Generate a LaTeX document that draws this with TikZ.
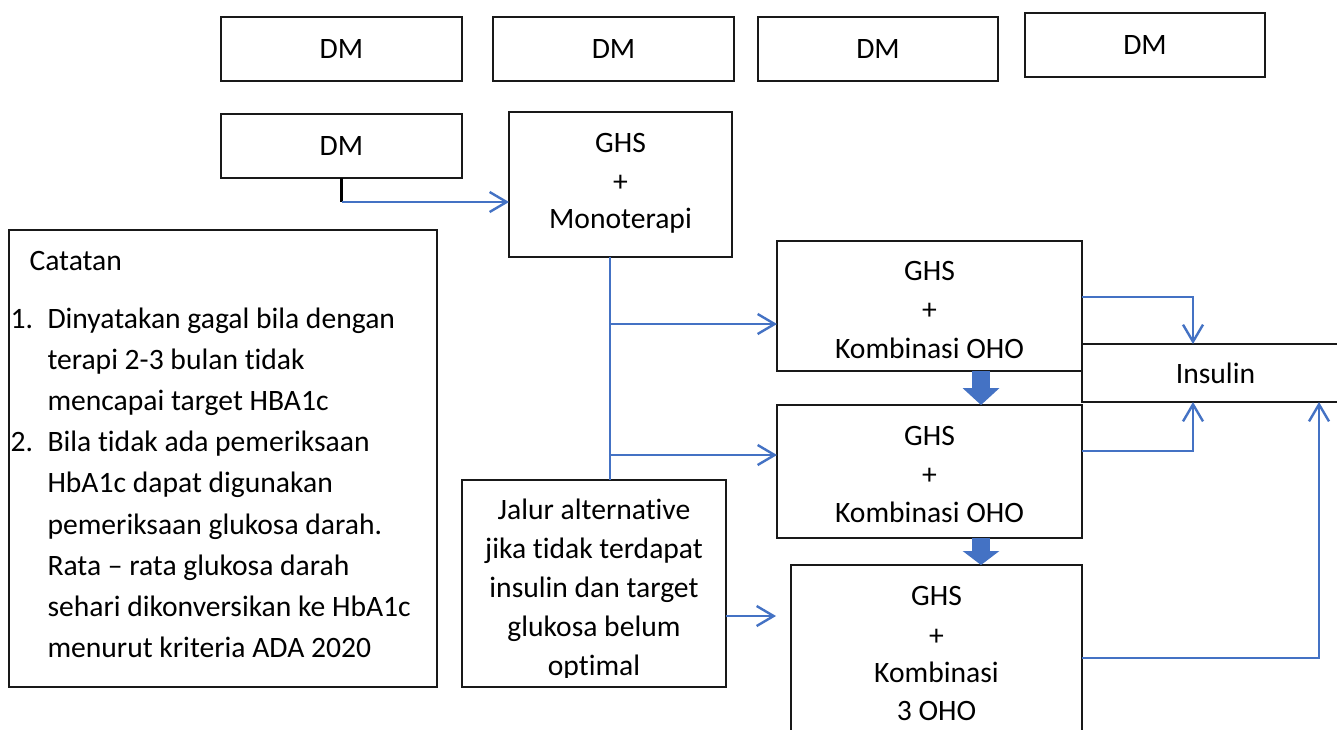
\documentclass[tikz,border=0pt]{standalone}
\usepackage{fontspec}
\setmainfont{Carlito}[Ligatures={NoCommon}]
\usetikzlibrary{arrows.meta}
\definecolor{flow}{HTML}{4472C4}
\definecolor{flowedge}{HTML}{3A62AE}
\tikzset{
  box/.style={draw=black!90, line width=2.8pt, fill=white, inner sep=0pt, outer sep=0pt,
    font=\fontsize{29.6}{35}\selectfont},
  txt/.style={inner sep=0pt, outer sep=0pt, anchor=base, font=\fontsize{29.6}{35}\selectfont},
  ltxt/.style={txt, anchor=base west},
  flowline/.style={draw=flow, line width=2.4pt},
  flowarrow/.style={flowline, -{Straight Barb[length=17pt, width=20pt]}},
  fatarrow/.style={draw=flow, line width=18pt}
}
\begin{document}
\begin{tikzpicture}[x=1pt, y=-1pt]
\clip (0,0) rectangle (1337,729);
\fill[white] (0,0) rectangle (1337,729);

% top row
\node[box, minimum width=241pt, minimum height=64pt] (dm1) at (341.5,49) {DM};
\node[box, minimum width=241pt, minimum height=64pt] (dm2) at (613.5,49) {DM};
\node[box, minimum width=240pt, minimum height=64pt] (dm3) at (878,49) {DM};
\node[box, minimum width=240pt, minimum height=64pt] (dm4) at (1145,45) {DM};
\node[box, minimum width=241pt, minimum height=64pt] (dm5) at (341.5,146) {DM};

% treatment boxes
\node[box, minimum width=223pt, minimum height=145pt] (mono) at (620.5,184.5) {};
\node[box, minimum width=305pt, minimum height=130pt] (k1) at (929.5,306) {};
\node[box, minimum width=267pt, minimum height=58pt] (ins) at (1215.5,373) {Insulin};
\node[box, minimum width=305pt, minimum height=133pt] (k2) at (929.5,471.5) {};
\node[box, minimum width=264pt, minimum height=207pt] (jalur) at (594,583.5) {};
\node[box, minimum width=291pt, minimum height=180pt] (k3) at (936.5,655) {};
\node[box, minimum width=428pt, minimum height=457pt] (notes) at (223,458.5) {};

% box texts
\node[txt] (monoA) at (620.5,152) {GHS};
\node[txt] (monoB) at (620.5,191) {+};
\node[txt] (monoC) at (620.5,228) {Monoterapi};

\node[txt] (k1A) at (929.5,280) {GHS};
\node[txt] (k1B) at (929.5,319) {+};
\node[txt] (k1C) at (929.5,358) {Kombinasi OHO};

\node[txt] (k2A) at (929.5,445) {GHS};
\node[txt] (k2B) at (929.5,484) {+};
\node[txt] (k2C) at (929.5,522) {Kombinasi OHO};

\node[txt] (k3A) at (936.5,605) {GHS};
\node[txt] (k3B) at (936.5,645) {+};
\node[txt] (k3C) at (936.5,682) {Kombinasi};
\node[txt] (k3D) at (936.5,720) {3 OHO};

\begin{scope}
  \clip (462,480) rectangle (726,677);
  \node[txt] (jA) at (594,519) {Jalur alternative};
  \node[txt] (jB) at (594,558) {jika tidak terdapat};
  \node[txt] (jC) at (594,597) {insulin dan target};
  \node[txt] (jD) at (594,636) {glukosa belum};
  \node[txt] (jE) at (594,675) {optimal};
\end{scope}

% notes
\node[ltxt] (n0) at (29.5,270) {Catatan};
\node[ltxt] (n1num) at (10.5,328) {1.};
\node[ltxt] (n1) at (47.5,328) {Dinyatakan gagal bila dengan};
\node[ltxt] (n2) at (47.5,369) {terapi 2-3 bulan tidak};
\node[ltxt] (n3) at (47.5,410) {mencapai target HBA1c};
\node[ltxt] (n4num) at (10.5,451) {2.};
\node[ltxt] (n4) at (47.5,451) {Bila tidak ada pemeriksaan};
\node[ltxt] (n5) at (47.5,492) {HbA1c dapat digunakan};
\node[ltxt] (n6) at (47.5,534) {pemeriksaan glukosa darah.};
\node[ltxt] (n7) at (47.5,575) {Rata – rata glukosa darah};
\node[ltxt] (n8) at (47.5,616) {sehari dikonversikan ke HbA1c};
\node[ltxt] (n9) at (47.5,657) {menurut kriteria ADA 2020};

% guide coordinates for connector routing
\coordinate (c5) at (341.5,202);
\coordinate (vx) at (610,0);
\coordinate (b1) at (0,324);
\coordinate (b2) at (0,455);
\coordinate (j1) at (0,616);
\coordinate (r1) at (0,297);
\coordinate (r2) at (0,451);
\coordinate (r3) at (0,658);
\coordinate (rx) at (1193,0);
\coordinate (rx2) at (1319,0);
\coordinate (fx) at (981,0);

% connectors
\draw[black, line width=2.4pt] (dm5.south) -- (c5);
\draw[flowarrow] (c5) -- (mono.west |- c5);
\draw[flowline] (mono.south -| vx) -- (jalur.north -| vx);
\draw[flowarrow] (vx |- b1) -- (k1.west |- b1);
\draw[flowarrow] (vx |- b2) -- (k2.west |- b2);
\draw[flowarrow, shorten >=15pt] (jalur.east |- j1) -- (k3.west |- j1);
\draw[flowarrow] (k1.east |- r1) -| (ins.north -| rx);
\draw[flowarrow] (k2.east |- r2) -| (ins.south -| rx);
\draw[flowarrow] (k3.east |- r3) -| (ins.south -| rx2);

% block arrows between the combination steps
\draw[fatarrow, -{Triangle[length=17pt, width=36pt]}] (k1.south -| fx) -- (k2.north -| fx);
\draw[fatarrow, -{Triangle[length=14pt, width=36pt]}] (k2.south -| fx) -- (k3.north -| fx);
\end{tikzpicture}
\end{document}
